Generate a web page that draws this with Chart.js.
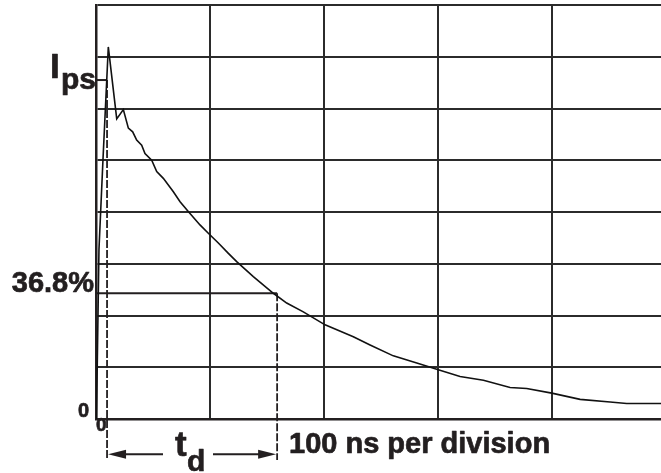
<!DOCTYPE html>
<html>
<head>
<meta charset="utf-8">
<script src="https://cdn.jsdelivr.net/npm/chart.js@4/dist/chart.umd.min.js"></script>
<style>
html,body{margin:0;padding:0;background:#fff;overflow:hidden;}
#wrap{width:661px;height:473px;}
</style>
</head>
<body>
<div id="wrap"><canvas id="c" width="661" height="473"></canvas></div>
<script>
// Time in ns (100 ns per division), current in vertical divisions
const timeNs = [0.4, 0.9, 2.6, 6.1, 10.8, 18.2, 24.0, 28.4, 32.2, 35.7, 40.1, 43.0, 48.9, 53.3, 59.1, 67.9, 73.8, 81.0, 91.3, 98.6, 107.4, 116.2, 123.5, 138.1, 155.7, 167.4, 182.0, 201.1, 225.9, 240.6, 261.0, 281.6, 299.1, 319.6, 340.1, 363.5, 378.1, 400.1, 425.0, 451.3, 465.9, 496];
const current = [0, 0.75, 3.27, 5.0, 7.19, 5.80, 5.98, 5.62, 5.55, 5.39, 5.29, 5.13, 5.00, 4.78, 4.65, 4.39, 4.20, 4.01, 3.75, 3.59, 3.40, 3.20, 3.04, 2.75, 2.43, 2.24, 2.07, 1.82, 1.59, 1.43, 1.22, 1.08, 0.96, 0.82, 0.75, 0.61, 0.59, 0.50, 0.38, 0.33, 0.30, 0.30];
const xTicks = [0, 100, 200, 300, 400];
const yTicks = [0, 1, 2, 3, 4, 5, 6, 7, 8];
const ipsLevel = 6.55;      // peak-current reference level
const decayLevel = 2.43;    // 36.8% level
const tStart = 9.7;         // ns, start of td
const tEnd = 159;           // ns, end of td
const dashBottom = -0.79;   // extension of dashed markers below axis
const arrowLevel = -0.68;
const labels = { ipsMain: "I", ipsSub: "ps", pct: "36.8%", zeroY: "0", zeroX: "0", tdMain: "t", tdSub: "d", division: "100 ns per division" };

const curve = timeNs.map((t, i) => ({ x: t, y: current[i] }));

const annot = {
  id: 'annot',
  afterDraw(chart) {
    const ctx = chart.ctx;
    const xs = chart.scales.x, ys = chart.scales.y;
    const F = 'Liberation Sans, Arial, Helvetica, sans-serif';
    const ink = '#231f20';
    ctx.save();
    ctx.fillStyle = ink;
    ctx.strokeStyle = ink;
    ctx.lineJoin = 'round';
    ctx.textBaseline = 'alphabetic';
    const txt = (s, x, y, size, align) => {
      ctx.font = 'bold ' + size + 'px ' + F;
      ctx.textAlign = align || 'left';
      ctx.lineWidth = 0.7;
      ctx.fillText(s, x, y);
      ctx.strokeText(s, x, y);
    };
    // Ips
    txt(labels.ipsMain, 50, 78, 35);
    txt(labels.ipsSub, 61, 89, 30);
    // 36.8%
    txt(labels.pct, 94, 292, 29, 'right');
    // zeros
    txt(labels.zeroY, 89, 417, 20, 'right');
    txt(labels.zeroX, 96, 431, 19);
    // t_d
    const x0 = xs.getPixelForValue(tStart), x1 = xs.getPixelForValue(tEnd);
    const ay = ys.getPixelForValue(arrowLevel);
    txt(labels.tdMain, 175, 456, 35);
    txt(labels.tdSub, 187, 471, 30);
    // arrows
    ctx.lineWidth = 2;
    ctx.beginPath();
    ctx.moveTo(x0 + 15, ay); ctx.lineTo(163, ay);
    ctx.moveTo(213, ay); ctx.lineTo(x1 - 15, ay);
    ctx.stroke();
    ctx.beginPath();
    ctx.moveTo(x0 + 1, ay); ctx.lineTo(x0 + 19, ay - 4.5); ctx.lineTo(x0 + 19, ay + 4.5); ctx.closePath();
    ctx.moveTo(x1 - 1, ay); ctx.lineTo(x1 - 19, ay - 4.5); ctx.lineTo(x1 - 19, ay + 4.5); ctx.closePath();
    ctx.fill();
    // division text
    txt(labels.division, 289, 453, 29);
    ctx.restore();
  }
};

new Chart(document.getElementById('c'), {
  type: 'scatter',
  data: {
    datasets: [
      { data: curve, showLine: true, borderColor: '#111', borderWidth: 1.6, pointRadius: 0, tension: 0 },
      { data: [{ x: 0, y: ipsLevel }, { x: tStart, y: ipsLevel }], showLine: true, borderColor: '#231f20', borderWidth: 2, pointRadius: 0 },
      { data: [{ x: tStart, y: ipsLevel }, { x: tStart, y: dashBottom }], showLine: true, borderColor: '#231f20', borderWidth: 1.8, borderDash: [8, 2], pointRadius: 0, clip: false },
      { data: [{ x: 0, y: decayLevel }, { x: tEnd, y: decayLevel }], showLine: true, borderColor: '#231f20', borderWidth: 2, pointRadius: 0 },
      { data: [{ x: tEnd, y: decayLevel }, { x: tEnd, y: dashBottom }], showLine: true, borderColor: '#231f20', borderWidth: 1.8, borderDash: [8, 2], pointRadius: 0, clip: false }
    ]
  },
  options: {
    responsive: false,
    animation: false,
    devicePixelRatio: 1,
    layout: { padding: { left: 96, top: 5, right: 0, bottom: 54 } },
    plugins: { legend: { display: false }, tooltip: { enabled: false } },
    scales: {
      x: {
        type: 'linear', min: 0, max: 496,
        afterBuildTicks: a => { a.ticks = xTicks.map(v => ({ value: v })); },
        ticks: { display: false },
        grid: { color: '#2b2b2b', lineWidth: 2, drawTicks: false },
        border: { display: true, color: '#231f20', width: 2.5 }
      },
      y: {
        type: 'linear', min: 0, max: 8,
        afterBuildTicks: a => { a.ticks = yTicks.map(v => ({ value: v })); },
        ticks: { display: false },
        grid: { color: '#2b2b2b', lineWidth: 2, drawTicks: false },
        border: { display: true, color: '#231f20', width: 2.5 }
      }
    }
  },
  plugins: [annot]
});
</script>
</body>
</html>
